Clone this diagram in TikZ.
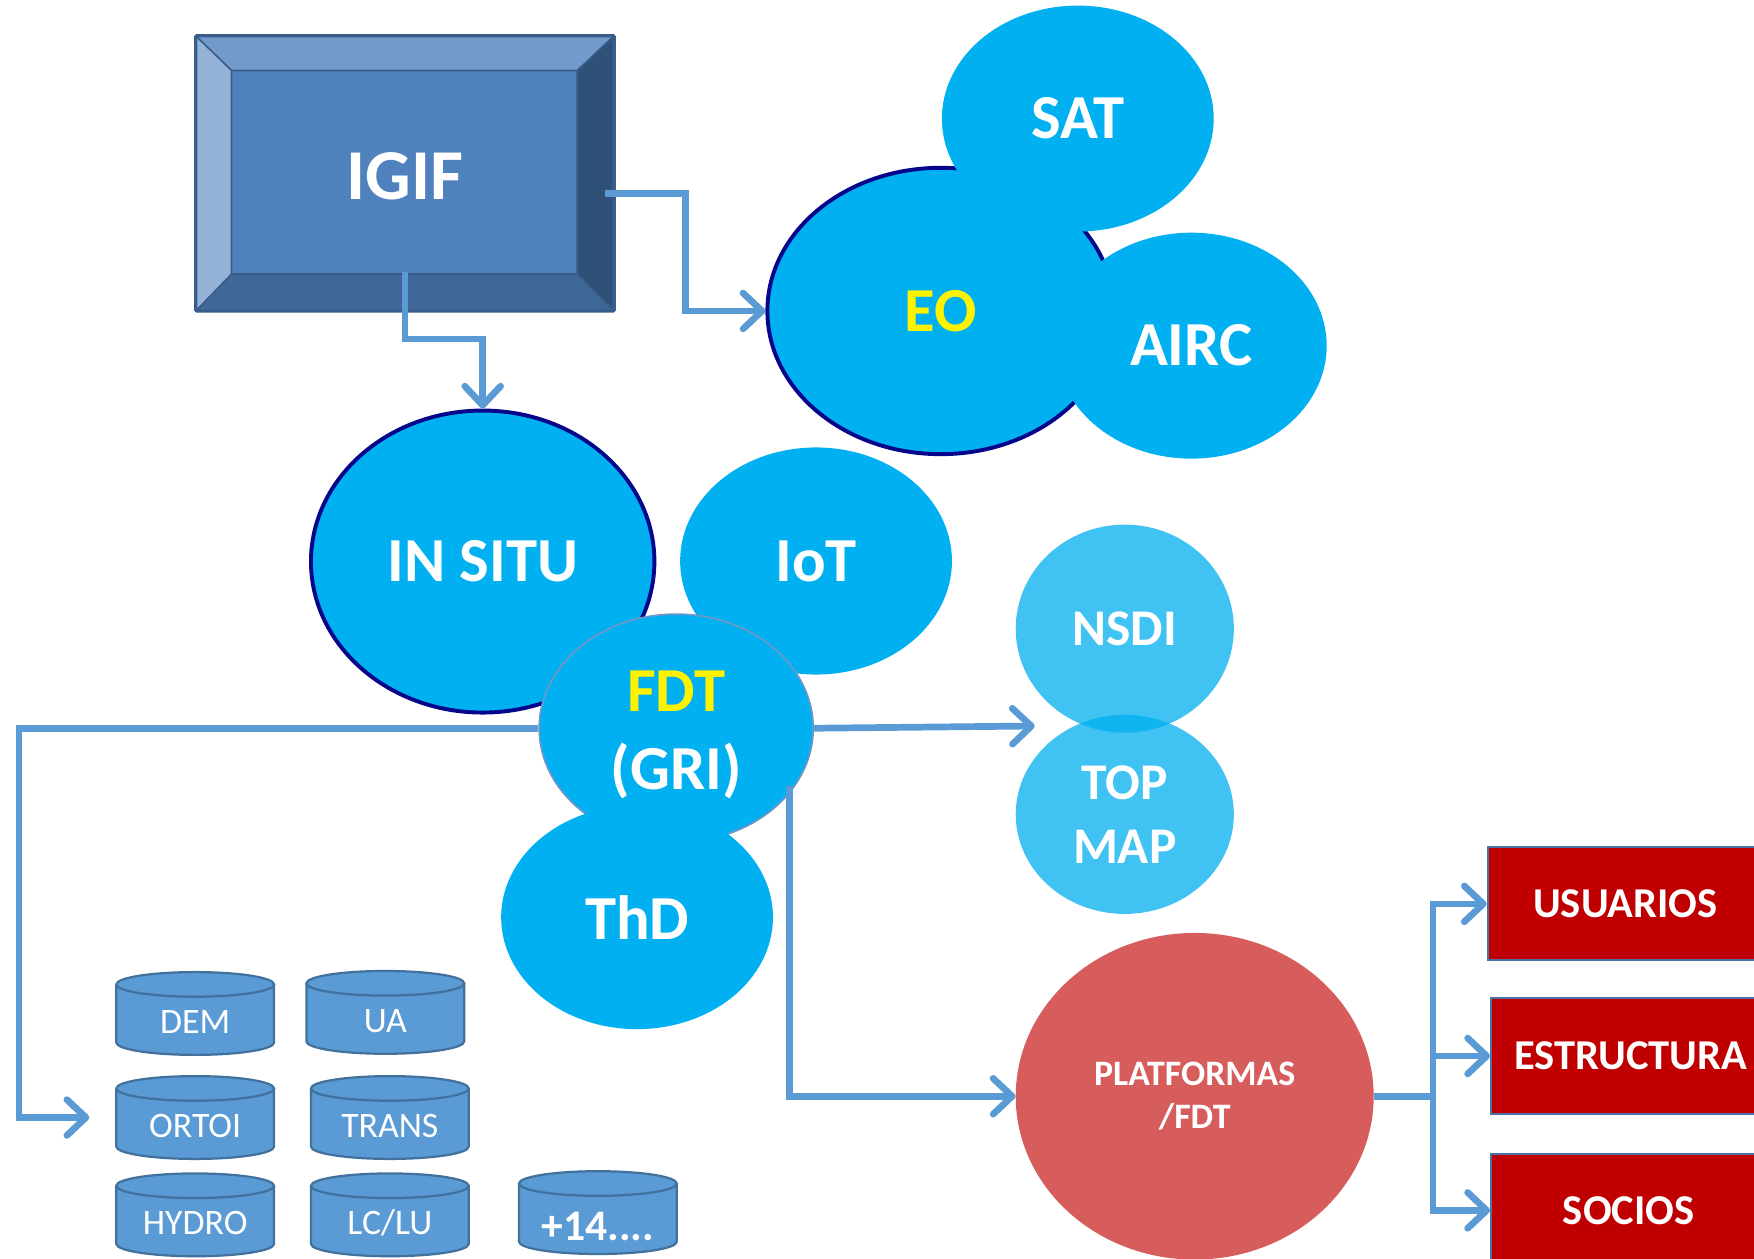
\documentclass[tikz,border=0pt]{standalone}
\usepackage{fontspec}
\setmainfont{Carlito}
\usetikzlibrary{arrows.meta,shapes.geometric,calc}
\definecolor{cyanb}{HTML}{00B0F0}
\definecolor{navyb}{HTML}{06068C}
\definecolor{lineb}{HTML}{5B9BD5}
\definecolor{cylf}{HTML}{5B9BD5}
\definecolor{cyld}{HTML}{41719C}
\definecolor{redbox}{HTML}{C00000}
\definecolor{redbd}{HTML}{4A72A4}
\definecolor{platf}{HTML}{D75C5C}
\definecolor{fdtbd}{HTML}{7096C8}
\definecolor{bvtop}{HTML}{729ACB}
\definecolor{bvleft}{HTML}{95B3D7}
\definecolor{bvright}{HTML}{2F5178}
\definecolor{bvbot}{HTML}{3F6797}
\definecolor{bvface}{HTML}{4F81BD}
\definecolor{bvline}{HTML}{385D8A}
\tikzset{
  biglbl/.style={font=\fontsize{56}{69}\selectfont\bfseries, text=white},
  blob/.style={ellipse, fill=cyanb, inner sep=0pt, align=center, biglbl},
  lightblob/.style={ellipse, fill=cyanb, fill opacity=0.75, text opacity=1, inner sep=0pt, align=center,
    font=\fontsize{46}{57}\selectfont\bfseries, text=white},
  navyrim/.style={draw=navyb, line width=3.5pt},
  conn/.style={draw=lineb, line width=6pt, -{Straight Barb[length=17pt,width=32pt,round]}},
  connline/.style={draw=lineb, line width=6pt},
  redtarget/.style={rectangle, fill=redbox, draw=redbd, line width=2pt, minimum width=246pt,
    minimum height=101pt, font=\fontsize{38}{44}\selectfont\bfseries, text=white},
  cyltxt/.style={font=\fontsize{32}{36}\selectfont, text=white, inner sep=0pt},
  cyl/.pic={
    \fill[cylf] (-70.5,26) rectangle (70.5,-26);
    \fill[cylf] (0,-26) ellipse [x radius=70.5pt, y radius=11pt];
    \draw[cyld, line width=2pt] (-70.5,26) -- (-70.5,-26)
      arc [start angle=180, end angle=360, x radius=70.5pt, y radius=11pt] -- (70.5,26);
    \filldraw[fill=cylf, draw=cyld, line width=2pt] (0,26) ellipse [x radius=70.5pt, y radius=11pt];
    \node[inner sep=0pt, minimum width=141pt, minimum height=74pt] (-b) at (0,0) {};
    \node[cyltxt, anchor=base] (-t) at (0,-18) {#1};
  }
}
\begin{document}
\begin{tikzpicture}[x=1pt,y=1pt]
\useasboundingbox (0,0) rectangle (1568,-1125);
\clip (0,0) rectangle (1568,-1125);
\fill[white] (0,0) rectangle (1568,-1125);

% IGIF bevelled box
\fill[bvtop] (175,-32) -- (549,-32) -- (516,-63) -- (207,-63) -- cycle;
\fill[bvright] (549,-32) -- (549,-278) -- (516,-245) -- (516,-63) -- cycle;
\fill[bvbot] (549,-278) -- (175,-278) -- (207,-245) -- (516,-245) -- cycle;
\fill[bvleft] (175,-278) -- (175,-32) -- (207,-63) -- (207,-245) -- cycle;
\fill[bvface] (207,-63) rectangle (516,-245);
\draw[bvline, line width=1.5pt] (207,-63) rectangle (516,-245)
  (175,-32) -- (207,-63) (549,-32) -- (516,-63) (549,-278) -- (516,-245) (175,-278) -- (207,-245);
\draw[bvline, line width=3pt, rounded corners=1pt] (175,-32) rectangle (549,-278);
\node[font=\fontsize{64}{70}\selectfont\bfseries, text=white] (igif) at (362,-158) {IGIF};
\coordinate (igr) at (541,-173);
\coordinate (igb) at (362,-243);

% EO cluster
\node[blob, navyrim, minimum width=310pt, minimum height=256pt, text=yellow] (eo) at (841,-278) {EO};
\node[blob, minimum width=243pt, minimum height=202pt] (sat) at (963.5,-106) {SAT};
\node[blob, minimum width=242pt, minimum height=202pt] (airc) at (1065,-309) {AIRC};

% IN SITU cluster
\node[blob, navyrim, minimum width=307pt, minimum height=270pt] (insitu) at (431.5,-502) {IN SITU};
\node[blob, minimum width=243pt, minimum height=203pt] (iot) at (729.5,-501.5) {IoT};
\node[blob, draw=fdtbd, line width=1.5pt, minimum width=245pt, minimum height=204pt,
  label={[biglbl, align=center, yshift=-6pt]center:{\textcolor{yellow}{FDT}\\(GRI)}}] (fdt) at (604.5,-651) {};
\node[blob, minimum width=243pt, minimum height=200pt] (thd) at (569.5,-820) {ThD};

% NSDI / TOP MAP
\node[lightblob, minimum width=195pt, minimum height=186pt] (nsdi) at (1005.5,-562) {NSDI};
\node[lightblob, minimum width=195pt, minimum height=178pt] (topmap) at (1005.5,-728) {TOP\\MAP};
\coordinate (nt) at (925,-649);

% PLATFORMAS
\node[ellipse, fill=platf, inner sep=0pt, minimum width=320pt, minimum height=292pt, align=center,
  font=\fontsize{32}{38}\selectfont\bfseries, text=white] (plat) at (1068,-980) {PLATFORMAS\\/FDT};

% red boxes
\node[redtarget] (usu) at (1453,-808) {USUARIOS};
\node[redtarget, minimum width=250pt, minimum height=104pt] (est) at (1458,-944) {ESTRUCTURA};
\node[redtarget] (soc) at (1456,-1082) {SOCIOS};

% databases
\pic (dem) at (174.5,-906) {cyl={DEM}};
\pic (ua) at (344.5,-905) {cyl={UA}};
\pic (ortoi) at (174.5,-999) {cyl={ORTOI}};
\pic (trans) at (348.5,-999) {cyl={TRANS}};
\pic (hydro) at (174.5,-1086) {cyl={HYDRO}};
\pic (lclu) at (348.5,-1086) {cyl={LC/LU}};
\pic (more) at (534.5,-1084) {cyl={\raisebox{-7pt}{\fontsize{39}{40}\selectfont\bfseries +14....}}};

% connectors
\draw[conn] (igr) -- ++(72,0) |- (eo.west);
\draw[conn] (igb) -- ++(0,-60) -| (insitu.north);
\coordinate (lx) at (17,-651);
\draw[conn] (fdt.west) -- (lx) |- ([xshift=-24pt]ortoi-b.west);
\draw[conn] (fdt.east) -- (nt);
\coordinate (fdtb) at (706,-703);
\draw[conn] (fdtb) |- (plat.west);
\coordinate (br) at (1281,-980);
\draw[connline] (plat.east) -- (br);
\draw[conn] (br) |- (usu.west);
\draw[conn] (br) |- (est.west);
\draw[conn] (br) |- (soc.west);
\end{tikzpicture}
\end{document}
